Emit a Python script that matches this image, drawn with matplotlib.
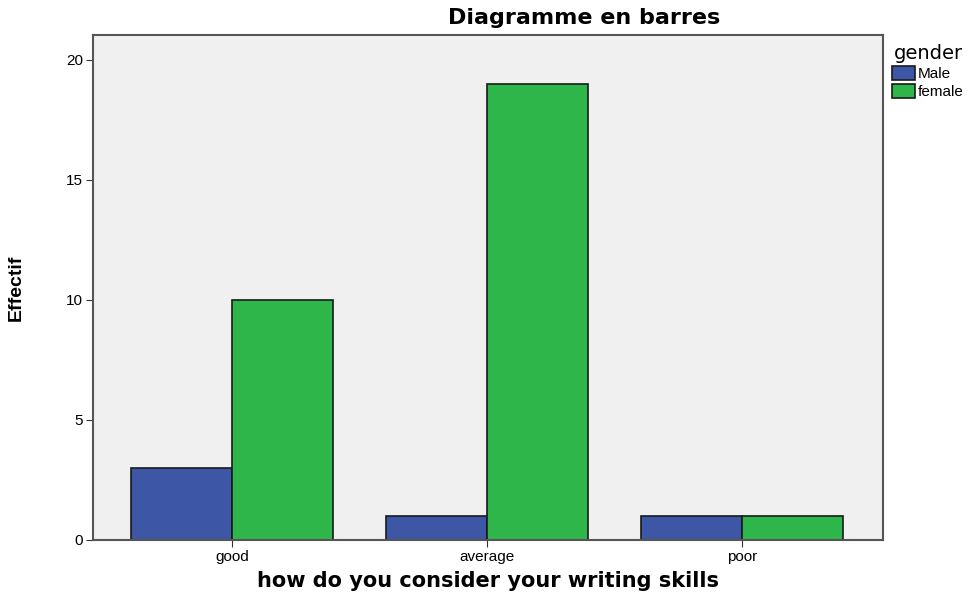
import numpy as np
import matplotlib.pyplot as plt

plt.rcParams["font.family"] = ["Liberation Sans", "DejaVu Sans"]

categories = ["good", "average", "poor"]
male = [3, 1, 1]
female = [10, 19, 1]

blue = "#3d56a6"
green = "#2fb64a"

fig = plt.figure(figsize=(9.77, 5.96), dpi=100)
ax = fig.add_axes([0.0952, 0.094, 0.8086, 0.8473])
ax.set_facecolor("#f0f0f0")

x = np.arange(len(categories))
w = 0.395
ax.bar(x - w / 2, male, w, color=blue, edgecolor="#1a1a1a", linewidth=1.2, label="Male")
ax.bar(x + w / 2, female, w, color=green, edgecolor="#1a1a1a", linewidth=1.2, label="female")

ax.set_xlim(-0.545, 2.553)
ax.set_ylim(0, 21.04)
ax.set_xticks(x)
ax.set_xticklabels(categories, fontsize=11)
ax.set_yticks([0, 5, 10, 15, 20])
ax.tick_params(axis="both", labelsize=11, length=5, color="#333333", pad=2)
for s in ax.spines.values():
    s.set_color("#555555")
    s.set_linewidth(1.5)

# titres un peu plus larges, comme dans l'original
ax.set_xlabel("how do you consider your writing skills", fontsize=15, fontweight="bold",
              family="DejaVu Sans", labelpad=5)
ax.set_ylabel("Effectif", fontsize=14, fontweight="bold", labelpad=30)
fig.text(584 / 977, 1 - 18 / 596, "Diagramme en barres", ha="center", va="center",
         fontsize=16, fontweight="bold", family="DejaVu Sans")

leg = ax.legend(title="gender", loc="upper left", bbox_to_anchor=(1.0, 1.0),
                frameon=False, fontsize=11, title_fontsize=14,
                handlelength=1.5, handleheight=1.0, handletextpad=0.2,
                borderaxespad=0.2, labelspacing=0.2)
leg.get_title().set_family("DejaVu Sans")

fig.savefig("out.png", dpi=100)
